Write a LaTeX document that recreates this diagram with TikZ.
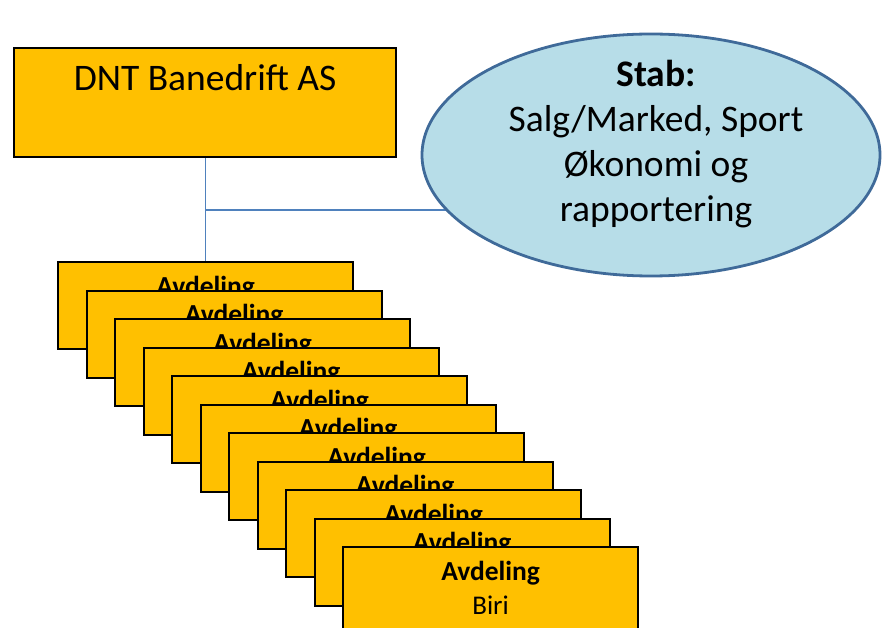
\documentclass[tikz,border=0pt]{standalone}
\usepackage{fontspec}
\setmainfont{Carlito}
\usetikzlibrary{shapes.geometric,backgrounds}
\definecolor{boxfill}{HTML}{FFC000}
\definecolor{stabfill}{HTML}{B7DDE8}
\definecolor{stabline}{HTML}{3F6A99}
\definecolor{conn}{HTML}{4F81BD}
\tikzset{
  orgbox/.style={draw=black, line width=2.2pt, fill=boxfill, rectangle, inner sep=0pt, anchor=north west},
  bigtxt/.style={font=\fontsize{37.5}{45}\selectfont, inner sep=0pt},
  avdtxt/.style={font=\bfseries\fontsize{27.5}{34}\selectfont, inner sep=0pt, anchor=base},
  subtxt/.style={font=\fontsize{27}{34}\selectfont, inner sep=0pt, anchor=base},
  connline/.style={draw=conn, line width=1.1pt}
}
\begin{document}
\begin{tikzpicture}[x=1pt,y=-1pt]
\useasboundingbox (0,0) rectangle (882,628);
\clip (0,0) rectangle (882,628);
% top box
\node[orgbox, minimum width=382pt, minimum height=109pt] (top) at (13,47) {};
\node[bigtxt, anchor=base] (toptxt) at ([yshift=-44pt]top.north) {DNT Banedrift AS};
% stab ellipse
\node[ellipse, draw=stabline, line width=2.8pt, fill=stabfill, minimum width=458pt, minimum height=242pt, inner sep=0pt] (stab) at (651,155) {};
\node[bigtxt, align=center] (stabtxt) at (656,144) {\textbf{Stab:}\\Salg/Marked, Sport\\Økonomi og\\rapportering};
% avdeling boxes
\foreach \i in {0,...,10} {
  \node[orgbox, minimum width=295pt, minimum height=87pt] (a\i) at (57+28.5*\i, 261+28.5*\i) {};
  \node[avdtxt] (t\i) at ([yshift=-34pt]a\i.north) {Avdeling};
}
\node[subtxt] (biri) at ([yshift=-68pt]a10.north) {Biri};
% connectors
\begin{scope}[on background layer]
  \draw[connline] (top.south) -- (top.south |- a0.north);
  \coordinate (j) at (top.south |- 0,210);
  \draw[connline] (j) -- (j -| stab.center);
\end{scope}
\end{tikzpicture}
\end{document}
